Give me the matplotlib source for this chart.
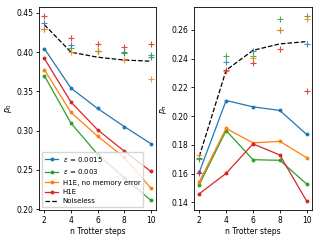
import matplotlib
matplotlib.use("Agg")
import matplotlib.pyplot as plt

# n Trotter steps
steps = [2, 4, 6, 8, 10]

# p_0 (left panel)
p0_eps1 = [0.4046, 0.3542, 0.3283, 0.3053, 0.2835]
p0_eps3 = [0.3700, 0.3096, 0.2700, 0.2400, 0.2114]
p0_h1e_nomem = [0.3777, 0.3232, 0.2930, 0.2660, 0.2268]
p0_h1e = [0.3920, 0.3364, 0.3012, 0.2740, 0.2482]
p0_noiseless = [0.4350, 0.4000, 0.3936, 0.3900, 0.3885]

# p_0 "+" markers
p0_plus_eps1 = [0.4370, 0.4090, 0.4020, 0.4000, 0.3940]
p0_plus_eps3 = [0.4300, 0.4050, 0.4020, 0.3990, 0.3970]
p0_plus_h1e_nomem = [0.4300, 0.4000, 0.4010, 0.3900, 0.3655]
p0_plus_h1e = [0.4465, 0.4180, 0.4105, 0.4060, 0.4105]

# p_pi (right panel)
pp_eps1 = [0.1610, 0.2109, 0.2065, 0.2040, 0.1873]
pp_eps3 = [0.1524, 0.1900, 0.1697, 0.1693, 0.1528]
pp_h1e_nomem = [0.1544, 0.1915, 0.1814, 0.1825, 0.1711]
pp_h1e = [0.1460, 0.1602, 0.1807, 0.1730, 0.1409]
pp_noiseless = [0.1720, 0.2320, 0.2458, 0.2503, 0.2519]

# p_pi "+" markers
pp_plus_eps1 = [0.1710, 0.2378, 0.2454, 0.2602, 0.2502]
pp_plus_eps3 = [0.1700, 0.2416, 0.2421, 0.2676, 0.2699]
pp_plus_h1e_nomem = [0.1729, 0.2317, 0.2402, 0.2602, 0.2678]
pp_plus_h1e = [0.1607, 0.2320, 0.2368, 0.2466, 0.2175]

labels = [r"$\epsilon$ = 0.0015", r"$\epsilon$ = 0.003",
          "H1E, no memory error", "H1E", "Noiseless"]
colors = ["C0", "C2", "C1", "C3"]

plt.rcParams["font.size"] = 5.5

fig = plt.figure(figsize=(3.2, 2.4), dpi=100)
ax1 = fig.add_axes([0.122, 0.125, 0.366, 0.846])
ax2 = fig.add_axes([0.606, 0.125, 0.369, 0.846])


def draw(ax, lines, noiseless, pluses):
    for y, c, lab in zip(lines, colors, labels):
        ax.plot(steps, y, color=c, marker="o", markersize=1.8, lw=0.9, label=lab)
    ax.plot(steps, noiseless, "k--", lw=0.9, label=labels[4])
    for y, c in zip(pluses, colors):
        ax.plot(steps, y, "+", color=c, markersize=4, mew=0.8, alpha=0.85)
    ax.set_xticks([2, 4, 6, 8, 10])
    ax.set_xlabel("n Trotter steps", labelpad=1.5)
    ax.tick_params(length=2.5, width=0.6, pad=1.5)
    for s in ax.spines.values():
        s.set_linewidth(0.6)


draw(ax1, [p0_eps1, p0_eps3, p0_h1e_nomem, p0_h1e], p0_noiseless,
     [p0_plus_eps1, p0_plus_eps3, p0_plus_h1e_nomem, p0_plus_h1e])
ax1.set_ylabel(r"$p_0$", labelpad=2)
ax1.set_ylim(0.199, 0.4576)
ax1.set_yticks([0.20, 0.25, 0.30, 0.35, 0.40, 0.45])
ax1.legend(loc="lower left", fontsize=5.0, handlelength=2.0, borderpad=0.4,
           labelspacing=0.5, handletextpad=0.6, borderaxespad=0.4)

draw(ax2, [pp_eps1, pp_eps3, pp_h1e_nomem, pp_h1e], pp_noiseless,
     [pp_plus_eps1, pp_plus_eps3, pp_plus_h1e_nomem, pp_plus_h1e])
ax2.set_ylabel(r"$p_\pi$", labelpad=2)
ax2.set_ylim(0.1347, 0.276)
ax2.set_yticks([0.14, 0.16, 0.18, 0.20, 0.22, 0.24, 0.26])

fig.savefig("out.png", dpi=100)
